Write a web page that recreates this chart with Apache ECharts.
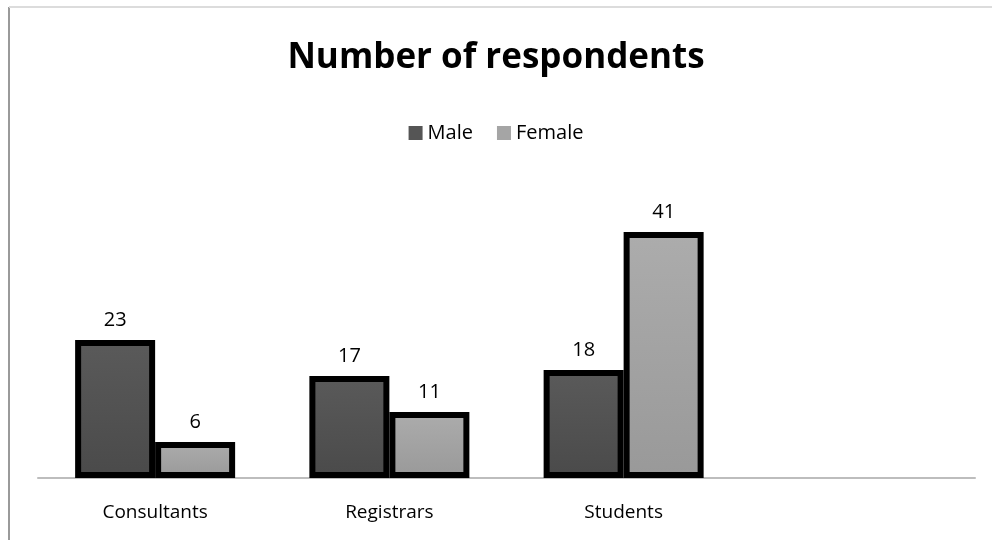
<!DOCTYPE html>
<html>
<head>
<meta charset="utf-8">
<script src="https://cdn.jsdelivr.net/npm/echarts@6/dist/echarts.min.js"></script>
<style>
  html, body { margin: 0; padding: 0; background: #fff; }
  #chart { width: 992px; height: 540px; }
</style>
</head>
<body>
<div id="chart"></div>
<script>
const categories = ['Consultants', 'Registrars', 'Students', ''];
const maleValues = [23, 17, 18, null];
const femaleValues = [6, 11, 41, null];

const myChart = echarts.init(document.getElementById('chart'));

const labelStyle = {
  show: true,
  position: 'top',
  distance: 10,
  fontSize: 20,
  fontFamily: 'Open Sans',
  color: '#000'
};

const option = {
  backgroundColor: '#fff',
  animation: false,
  title: {
    text: 'Number of respondents',
    left: 'center',
    top: 36,
    textStyle: {
      fontSize: 35,
      fontWeight: 'bold',
      fontFamily: 'Open Sans',
      color: '#000'
    }
  },
  legend: {
    top: 118,
    left: 'center',
    itemWidth: 14,
    itemHeight: 14,
    itemGap: 24,
    icon: 'rect',
    itemStyle: { borderWidth: 0 },
    textStyle: { fontSize: 20, fontFamily: 'Open Sans', color: '#000' },
    data: [
      { name: 'Male', itemStyle: { color: '#555555', borderWidth: 0 } },
      { name: 'Female', itemStyle: { color: '#a5a5a5', borderWidth: 0 } }
    ]
  },
  grid: {
    left: 38,
    right: 17,
    top: 178,
    bottom: 62
  },
  xAxis: {
    type: 'category',
    data: categories,
    axisLine: { lineStyle: { color: '#bdbdbd', width: 2 } },
    axisTick: { show: false },
    axisLabel: { fontSize: 19, fontFamily: 'Open Sans', color: '#000', margin: 25 }
  },
  yAxis: {
    type: 'value',
    min: 0,
    max: 50,
    show: false
  },
  series: [
    {
      name: 'Male',
      type: 'bar',
      data: maleValues,
      barWidth: 80,
      barGap: '0%',
      itemStyle: {
        color: new echarts.graphic.LinearGradient(0, 0, 0, 1, [
          { offset: 0, color: '#5a5a5a' },
          { offset: 1, color: '#4a4a4a' }
        ]),
        borderColor: '#000',
        borderWidth: 6
      },
      label: labelStyle
    },
    {
      name: 'Female',
      type: 'bar',
      data: femaleValues,
      barWidth: 80,
      itemStyle: {
        color: new echarts.graphic.LinearGradient(0, 0, 0, 1, [
          { offset: 0, color: '#acacac' },
          { offset: 1, color: '#999999' }
        ]),
        borderColor: '#000',
        borderWidth: 6
      },
      label: labelStyle
    }
  ],
  graphic: [
    {
      type: 'line',
      shape: { x1: 9, y1: 7, x2: 9, y2: 540 },
      style: { stroke: '#9a9a9a', lineWidth: 2 }
    },
    {
      type: 'line',
      shape: { x1: 9, y1: 7, x2: 992, y2: 7 },
      style: { stroke: '#dcdcdc', lineWidth: 2 }
    }
  ]
};

myChart.setOption(option);
</script>
</body>
</html>
